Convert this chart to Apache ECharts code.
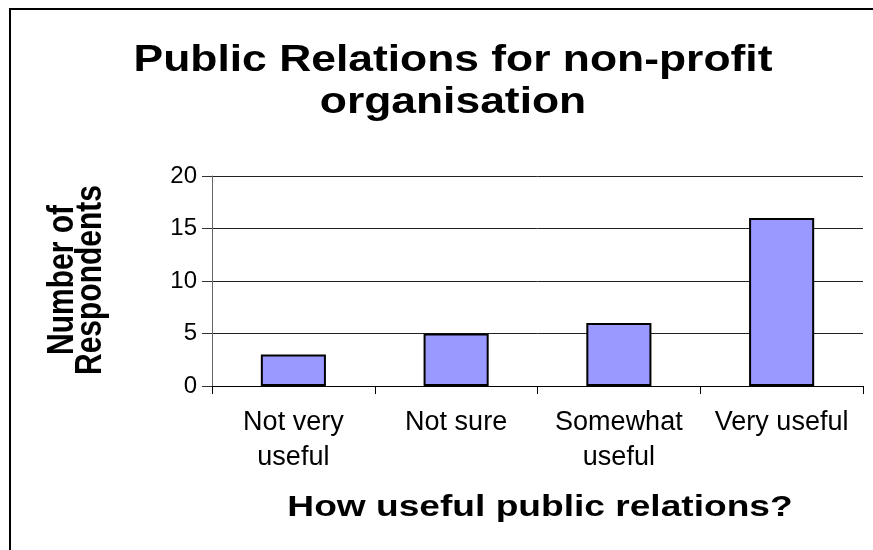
<!DOCTYPE html>
<html>
<head>
<meta charset="utf-8">
<script src="https://cdn.jsdelivr.net/npm/echarts@6/dist/echarts.min.js"></script>
<style>
  html, body { margin: 0; padding: 0; background: #fff; }
  #chart { width: 873px; height: 550px; }
</style>
</head>
<body>
<div id="chart"></div>
<script>
// Survey answers: how useful is public relations for a non-profit organisation
const titleLines = ['Public Relations for non-profit', 'organisation'];
const categories = ['Not very\nuseful', 'Not sure', 'Somewhat\nuseful', 'Very useful'];
const respondents = [3, 5, 6, 16];
const xAxisTitle = 'How useful public relations?';
const yAxisTitle = 'Number of\nRespondents';
const yTicks = { min: 0, max: 20, interval: 5 };

const FONT = "'Liberation Sans', Arial, sans-serif";
const chart = echarts.init(document.getElementById('chart'), null, { renderer: 'canvas' });

chart.setOption({
  animation: false,
  backgroundColor: '#ffffff',
  grid: { left: 212, right: 10, top: 176, bottom: 164, containLabel: false },
  xAxis: {
    type: 'category',
    data: categories,
    boundaryGap: true,
    axisLine: { show: true, lineStyle: { color: '#000', width: 1 } },
    axisTick: { show: true, length: 8, inside: false, alignWithLabel: false, lineStyle: { color: '#000' } },
    axisLabel: {
      interval: 0, margin: 19, color: '#000',
      fontFamily: FONT, fontSize: 27, lineHeight: 35, align: 'center'
    },
    splitLine: { show: false }
  },
  yAxis: {
    type: 'value',
    min: yTicks.min, max: yTicks.max, interval: yTicks.interval,
    axisLine: { show: true, lineStyle: { color: '#666', width: 1 } },
    axisTick: { show: true, length: 10, inside: false, lineStyle: { color: '#333' } },
    axisLabel: { margin: 15, color: '#000', fontFamily: FONT, fontSize: 24 },
    splitLine: { show: true, lineStyle: { color: '#222', width: 1 } }
  },
  series: [{
    type: 'bar',
    data: respondents,
    barCategoryGap: '60%',
    itemStyle: { color: '#9999ff', borderColor: '#000', borderWidth: 2 },
    emphasis: { disabled: true }
  }],
  graphic: [
    {
      type: 'rect', silent: true,
      shape: { x: 10, y: 9, width: 900, height: 600 },
      style: { fill: 'none', stroke: '#000', lineWidth: 2 }
    },
    {
      type: 'text', x: 453, y: 61, scaleX: 1.2, silent: true,
      style: { text: titleLines[0], font: 'bold 37px ' + FONT, fill: '#000', align: 'center', verticalAlign: 'middle' }
    },
    {
      type: 'text', x: 453, y: 103, scaleX: 1.2, silent: true,
      style: { text: titleLines[1], font: 'bold 37px ' + FONT, fill: '#000', align: 'center', verticalAlign: 'middle' }
    },
    {
      type: 'text', x: 540, y: 508, scaleX: 1.28, silent: true,
      style: { text: xAxisTitle, font: 'bold 29px ' + FONT, fill: '#000', align: 'center', verticalAlign: 'middle' }
    },
    {
      type: 'text', x: 77, y: 280, rotation: Math.PI / 2, scaleY: 1.2, silent: true,
      style: { text: yAxisTitle, font: 'bold 30px ' + FONT, lineHeight: 23, fill: '#000', align: 'center', verticalAlign: 'middle' }
    }
  ]
});
</script>
</body>
</html>
